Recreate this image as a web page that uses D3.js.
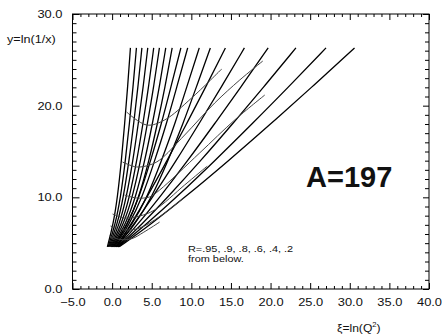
<!DOCTYPE html>
<html><head><meta charset="utf-8">
<script src="https://cdn.jsdelivr.net/npm/d3@7"></script>
<style>
body{margin:0;background:#fff;}
text{font-family:"Liberation Sans",Arial,sans-serif;fill:#111;}
</style></head>
<body><svg id="c" width="443" height="336"></svg>
<script>
// ---- data ----
const xTickValues = [-5,0,5,10,15,20,25,30,35,40];
const yTickValues = [0,10,20,30];
// y levels at which each characteristic line's xi value was read
const yLevels = [4.6, 7, 10, 14, 18, 22, 26.3];
const line01 = [-0.6, 0.13, 0.68, 1.18, 1.58, 1.96, 2.31];
const line02 = [-0.5, 0.39, 1.07, 1.68, 2.18, 2.64, 3.07];
const line03 = [-0.4, 0.64, 1.43, 2.14, 2.72, 3.26, 3.76];
const line04 = [-0.3, 0.9, 1.81, 2.63, 3.3, 3.92, 4.5];
const line05 = [-0.2, 1.16, 2.2, 3.12, 3.89, 4.6, 5.25];
const line06 = [-0.1, 1.42, 2.57, 3.6, 4.45, 5.24, 5.97];
const line07 = [0.0, 1.69, 2.98, 4.13, 5.08, 5.96, 6.77];
const line08 = [0.1, 1.97, 3.39, 4.66, 5.71, 6.68, 7.58];
const line09 = [0.2, 1.9, 3.42, 4.86, 6.22, 7.41, 8.68];
const line10 = [0.3, 2.15, 3.81, 5.38, 6.86, 8.15, 9.54];
const line11 = [0.4, 2.52, 4.43, 6.23, 7.93, 9.41, 11.0];
const line12 = [0.5, 2.88, 5.02, 7.05, 8.95, 10.62, 12.4];
const line13 = [0.55, 2.35, 4.39, 6.94, 9.39, 11.8, 14.3];
const line14 = [0.6, 2.71, 5.09, 8.09, 10.95, 13.77, 16.7];
const line15 = [0.7, 3.19, 6.0, 9.54, 12.92, 16.24, 19.7];
const line16 = [0.75, 3.69, 7.01, 11.19, 15.19, 19.11, 23.2];
const line17 = [0.8, 4.23, 8.11, 12.98, 17.65, 22.23, 27.0];
const line18 = [0.9, 4.79, 9.19, 14.71, 20.0, 25.19, 30.6];
const characteristicLines = [line01,line02,line03,line04,line05,line06,line07,line08,line09,
  line10,line11,line12,line13,line14,line15,line16,line17,line18];

// R contours: [xi, y] pairs
const contourR020 = [[1.83,19.31],[4.35,17.89],[6.63,18.44],[10.04,20.84],[13.83,24.0]];
const contourR040 = [[1.32,13.85],[3.09,13.31],[4.73,13.53],[6.0,14.07],[9.16,16.8],[12.95,20.29],[16.11,22.8],[19.02,24.87]];
const contourR060 = [[1.57,10.25],[3.09,9.93],[4.73,10.04],[6.0,10.8],[11.05,14.84],[15.48,18.44],[19.27,21.16]];
const contourR080 = [[0.06,8.18],[1.57,7.75],[3.47,7.96],[5.37,8.62],[9.16,11.35],[12.0,13.4]];
const contourR090 = [[-0.2,6.87],[1.57,6.44],[3.47,6.65],[6.0,7.9],[9.0,9.9]];
const contourR095 = [[-0.32,5.78],[1.0,5.4],[2.5,5.5],[4.0,6.2],[6.0,7.3]];
const contours = [contourR020,contourR040,contourR060,contourR080,contourR090,contourR095];

// ---- chart ----
const svg = d3.select("#c");
const x = d3.scaleLinear().domain([-5,40]).range([72.5,429]);
const y = d3.scaleLinear().domain([0,30]).range([289,14]);
const fmt = d3.format(".1f");
const SX = 1.17;

// frame
svg.append("rect").attr("x",x(-5)).attr("y",y(30)).attr("width",x(40)-x(-5)).attr("height",y(0)-y(30))
  .attr("fill","none").attr("stroke","#000").attr("stroke-width",1);

const minorX = d3.range(-5,41,1).filter(v=>v%5!==0);
const minorY = d3.range(0,31,1).filter(v=>v%10!==0);

function styleAxis(g){ g.select(".domain").remove(); g.selectAll("line").attr("stroke","#000"); }

// bottom
svg.append("g").attr("transform",`translate(0,${y(0)})`)
  .call(d3.axisBottom(x).tickValues(xTickValues).tickSize(-6).tickPadding(9).tickFormat(fmt))
  .call(styleAxis)
  .call(g=>g.selectAll("text").attr("font-size",11).attr("font-family","Liberation Sans, Arial").attr("fill","#111").attr("transform",`scale(${SX},1)`));
svg.append("g").attr("transform",`translate(0,${y(0)})`)
  .call(d3.axisBottom(x).tickValues(minorX).tickSize(-3).tickFormat(""))
  .call(styleAxis);
// top
svg.append("g").attr("transform",`translate(0,${y(30)})`)
  .call(d3.axisTop(x).tickValues(xTickValues).tickSize(-6).tickFormat(""))
  .call(styleAxis);
svg.append("g").attr("transform",`translate(0,${y(30)})`)
  .call(d3.axisTop(x).tickValues(minorX).tickSize(-3).tickFormat(""))
  .call(styleAxis);
// left
svg.append("g").attr("transform",`translate(${x(-5)},0)`)
  .call(d3.axisLeft(y).tickValues(yTickValues).tickSize(-7).tickPadding(10).tickFormat(fmt))
  .call(styleAxis)
  .call(g=>g.selectAll("text").attr("font-size",11).attr("font-family","Liberation Sans, Arial").attr("fill","#111")
     .attr("transform",`translate(-10,0) scale(${SX},1) translate(10,0)`));
svg.append("g").attr("transform",`translate(${x(-5)},0)`)
  .call(d3.axisLeft(y).tickValues(minorY).tickSize(-4).tickFormat(""))
  .call(styleAxis);
// right
svg.append("g").attr("transform",`translate(${x(40)},0)`)
  .call(d3.axisRight(y).tickValues(yTickValues).tickSize(-6).tickFormat(""))
  .call(styleAxis);
svg.append("g").attr("transform",`translate(${x(40)},0)`)
  .call(d3.axisRight(y).tickValues(minorY).tickSize(-4).tickFormat(""))
  .call(styleAxis);

// characteristic lines
const lineGen = d3.line().x(d=>x(d[0])).y(d=>y(d[1])).curve(d3.curveBasis);
svg.append("g").selectAll("path").data(characteristicLines).join("path")
  .attr("d", vals => lineGen(vals.map((v,i)=>[v,yLevels[i]])))
  .attr("fill","none").attr("stroke","#000").attr("stroke-width",1.3);

// contours
const cGen = d3.line().x(d=>x(d[0])).y(d=>y(d[1])).curve(d3.curveCatmullRom);
svg.append("g").selectAll("path").data(contours).join("path")
  .attr("d", cGen).attr("fill","none").attr("stroke","#444").attr("stroke-width",1);

// texts
svg.append("text").attr("x",7).attr("y",43).attr("font-size",11)
  .attr("transform","translate(7,0) scale(1.15,1) translate(-7,0)").text("y=ln(1/x)");
const xl = svg.append("text").attr("x",337).attr("y",332).attr("font-size",11)
  .attr("transform","translate(337,0) scale(1.1,1) translate(-337,0)");
xl.append("tspan").text("ξ=ln(Q");
xl.append("tspan").attr("font-size",7).attr("dy",-5).text("2");
xl.append("tspan").attr("dy",5).text(")");
svg.append("text").attr("x",306).attr("y",187).attr("font-size",29).attr("font-weight","bold").attr("fill","#000").text("A=197");
svg.append("text").attr("x",188).attr("y",252).attr("font-size",9.5)
  .attr("transform","translate(188,0) scale(1.15,1) translate(-188,0)").text("R=.95, .9, .8, .6, .4, .2");
svg.append("text").attr("x",188).attr("y",262).attr("font-size",9.5)
  .attr("transform","translate(188,0) scale(1.15,1) translate(-188,0)").text("from below.");
</script></body></html>
